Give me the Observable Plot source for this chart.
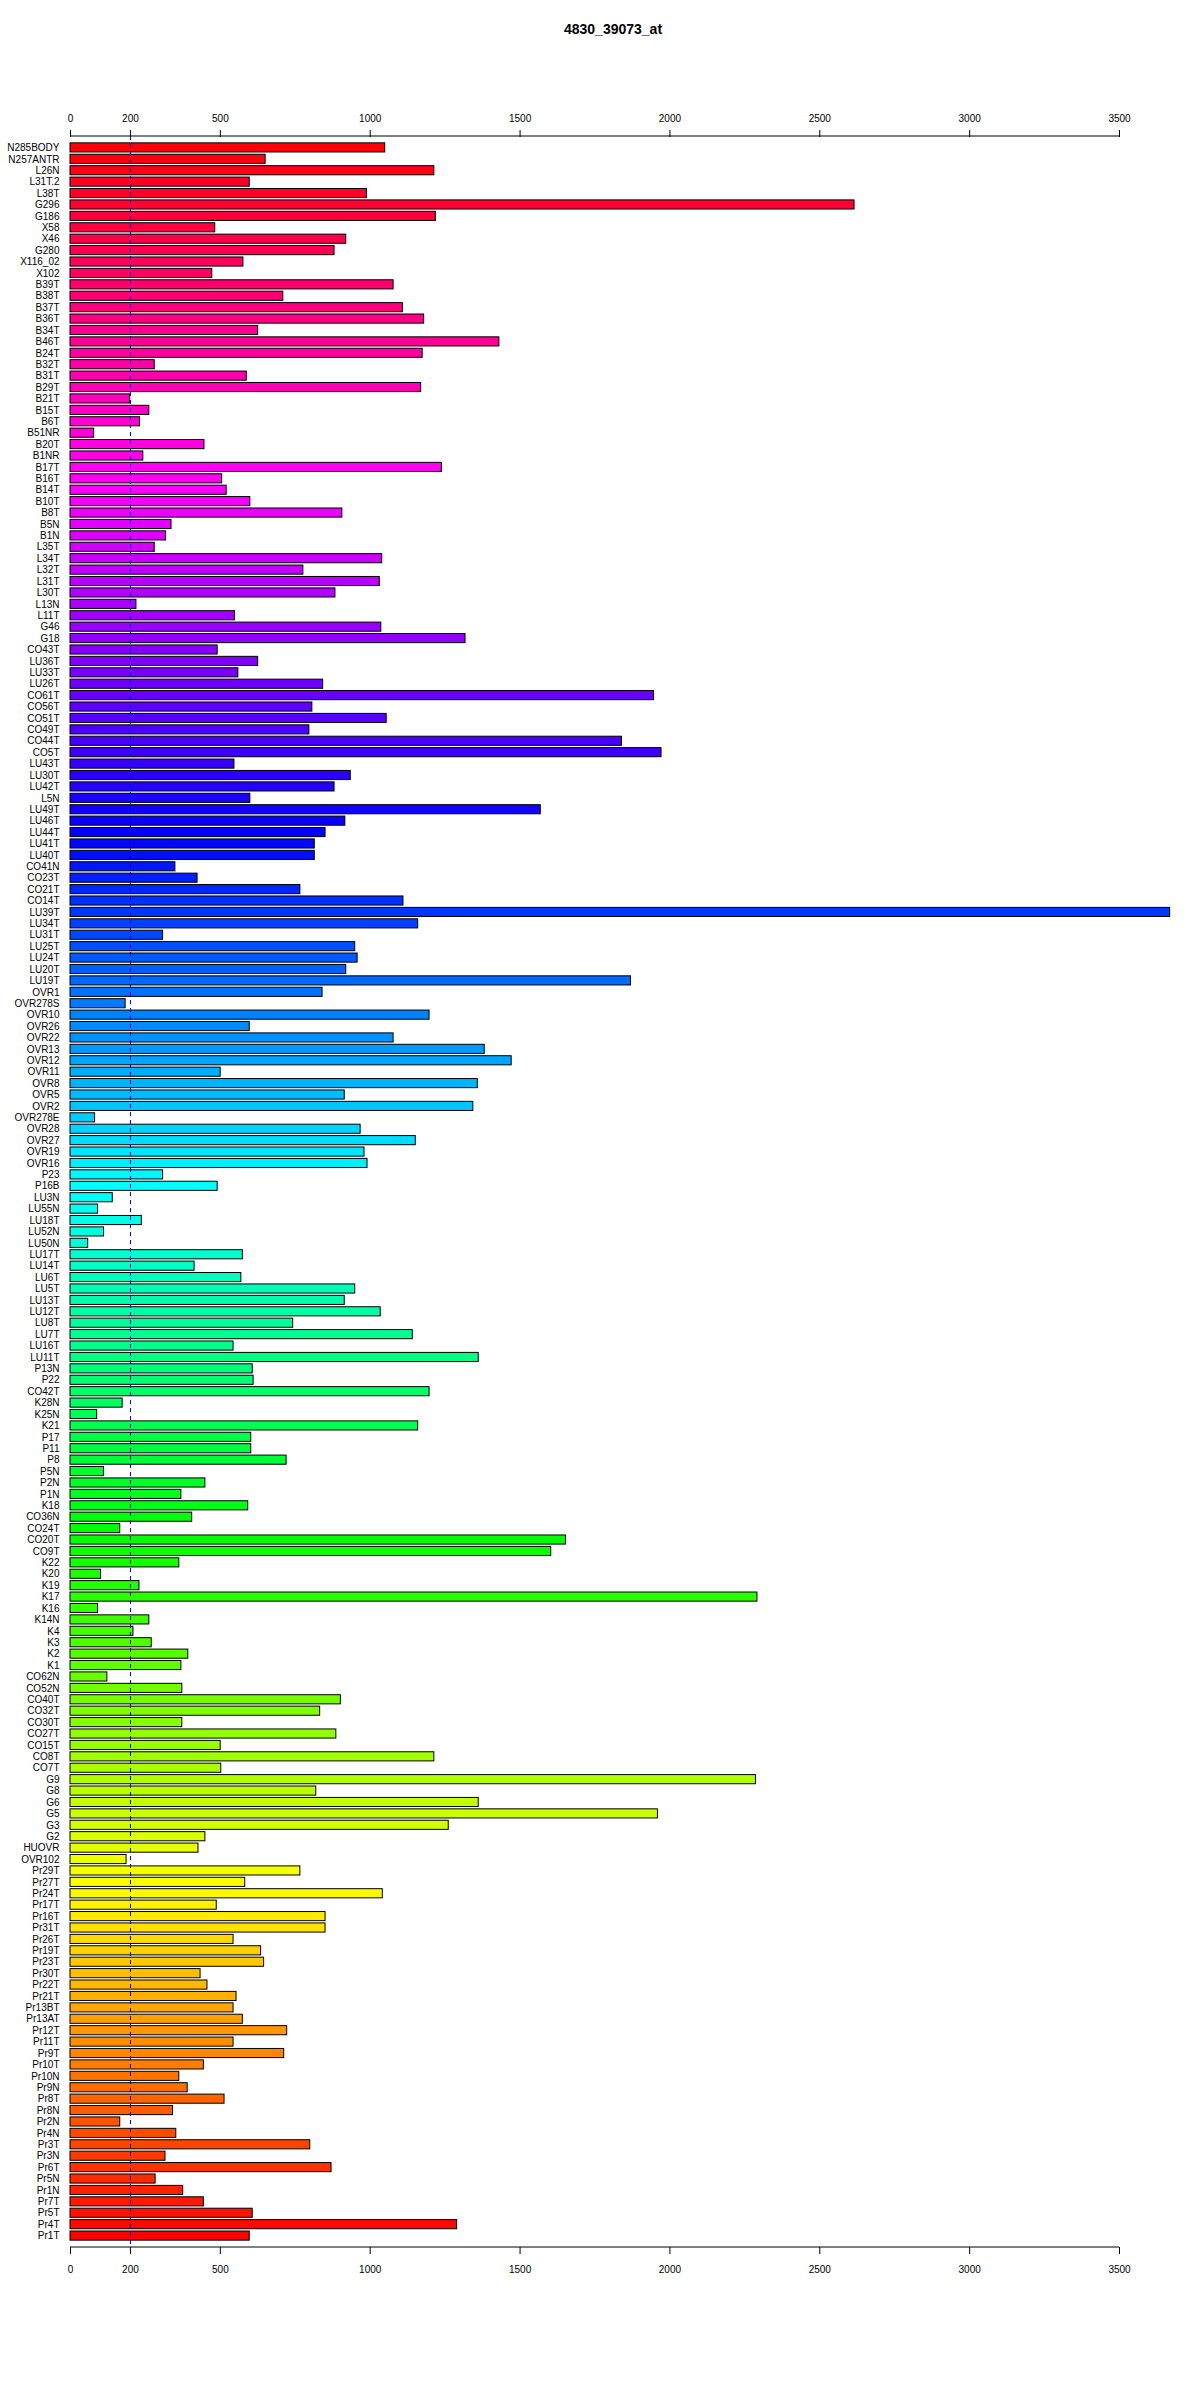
<!DOCTYPE html>
<html><head><meta charset="utf-8">
<script src="https://cdn.jsdelivr.net/npm/d3@7"></script>
<script src="https://cdn.jsdelivr.net/npm/@observablehq/plot@0.6"></script>
<style>
body{margin:0;background:#fff;font-family:"Liberation Sans",Arial,sans-serif;}
#title{height:50px;position:relative;}
#title span{position:absolute;left:613px;top:29px;transform:translate(-50%,-50%);font-weight:bold;font-size:14px;white-space:nowrap;}
#chart svg{display:block;font-family:"Liberation Sans",Arial,sans-serif;}
</style></head><body>
<div id="title"><span></span></div>
<div id="chart"></div>
<script>
const titleText = "4830_39073_at";
const samples = [
"N285BODY","N257ANTR","L26N","L31T.2","L38T","G296","G186","X58","X46","G280","X116_02","X102","B39T",
"B38T","B37T","B36T","B34T","B46T","B24T","B32T","B31T","B29T","B21T","B15T","B6T","B51NR","B20T","B1NR","B17T",
"B16T","B14T","B10T","B8T","B5N","B1N","L35T","L34T","L32T","L31T","L30T","L13N","L11T","G46","G18","CO43T",
"LU36T","LU33T","LU26T","CO61T","CO56T","CO51T","CO49T","CO44T","CO5T","LU43T","LU30T","LU42T","L5N","LU49T","LU46T","LU44T",
"LU41T","LU40T","CO41N","CO23T","CO21T","CO14T","LU39T","LU34T","LU31T","LU25T","LU24T","LU20T","LU19T","OVR1","OVR278S","OVR10","OVR26",
"OVR22","OVR13","OVR12","OVR11","OVR8","OVR5","OVR2","OVR278E","OVR28","OVR27","OVR19","OVR16","P23","P16B","LU3N",
"LU55N","LU18T","LU52N","LU50N","LU17T","LU14T","LU6T","LU5T","LU13T","LU12T","LU8T","LU7T","LU16T","LU11T","P13N","P22","CO42T",
"K28N","K25N","K21","P17","P11","P8","P5N","P2N","P1N","K18","CO36N","CO24T","CO20T","CO9T","K22","K20",
"K19","K17","K16","K14N","K4","K3","K2","K1","CO62N","CO52N","CO40T","CO32T","CO30T","CO27T","CO15T","CO8T",
"CO7T","G9","G8","G6","G5","G3","G2","HUOVR","OVR102","Pr29T","Pr27T","Pr24T","Pr17T","Pr16T","Pr31T","Pr26T",
"Pr19T","Pr23T","Pr30T","Pr22T","Pr21T","Pr13BT","Pr13AT","Pr12T","Pr11T","Pr9T","Pr10T","Pr10N","Pr9N","Pr8T","Pr8N","Pr2N","Pr4N",
"Pr3T","Pr3N","Pr6T","Pr5N","Pr1N","Pr7T","Pr5T","Pr4T","Pr1T"
];
const values = [
1050,651,1214,598,989,2616,1219,483,920,881,577,473,1078,
710,1109,1180,626,1431,1175,281,588,1170,199,263,232,79,447,243,1239,
506,521,600,907,337,319,281,1040,777,1032,884,220,549,1037,1318,491,
626,560,843,1947,807,1055,797,1840,1972,547,935,881,600,1569,917,851,
815,815,350,424,767,1111,3669,1160,309,950,958,920,1870,841,184,1198,598,
1078,1382,1472,501,1359,915,1344,82,968,1152,981,991,309,491,141,
92,238,112,59,575,414,570,950,915,1035,743,1142,544,1362,608,611,1198,
174,89,1160,603,603,721,112,450,370,593,406,166,1653,1604,363,102,
230,2292,92,263,210,271,393,370,123,373,902,833,373,887,501,1214,
503,2287,820,1362,1960,1262,450,427,187,767,583,1042,488,851,851,544,
636,646,434,457,554,544,575,723,544,713,445,363,391,514,342,166,353,
800,317,871,284,376,445,608,1290,598
];
const tickValues = [0,200,500,1000,1500,2000,2500,3000,3500];
const thresholdValue = 200;

document.querySelector("#title span").textContent = titleText;

const n = samples.length;
const data = samples.map((s, i) => ({sample: s, value: values[i], idx: i}));

const W = 1200, H = 2350, mT = 86, mB = 153, mL = 70, mR = 81;

const chart = Plot.plot({
  width: W, height: H,
  marginTop: mT, marginBottom: mB, marginLeft: mL, marginRight: mR,
  style: {fontFamily: "Liberation Sans, Arial, sans-serif", background: "white"},
  x: {domain: [tickValues[0], tickValues[tickValues.length - 1]], axis: null, label: null},
  y: {domain: samples, paddingInner: 0.2, paddingOuter: 0.6, axis: null, label: null},
  color: {type: "linear", domain: [-1, n - 1], interpolate: t => d3.hsl(360 * (1 - t), 1, 0.5).formatHex()},
  marks: [
    Plot.barX(data, {x: "value", y: "sample", fill: "idx", stroke: "black", strokeWidth: 1}),
    Plot.ruleX([thresholdValue], {stroke: "#0000CD", strokeWidth: 1, strokeDasharray: "4,4"}),
    Plot.axisX({anchor: "top", ticks: tickValues, tickFormat: d => String(d), tickSize: 7, tickPadding: 8, fontSize: 10, stroke: "black", label: null}),
    Plot.axisX({anchor: "bottom", ticks: tickValues, tickFormat: d => String(d), tickSize: 7, tickPadding: 11, fontSize: 10, stroke: "black", label: null}),
    Plot.axisY({anchor: "left", tickSize: 0, tickPadding: 11, fontSize: 10, label: null})
  ]
});

// axis lines spanning the tick range, like R's axis()
const xs = chart.scale("x");
const svg = d3.select(chart);
[mT, H - mB].forEach(yy => {
  svg.append("line")
    .attr("x1", xs.apply(tickValues[0])).attr("x2", xs.apply(tickValues[tickValues.length - 1]))
    .attr("y1", yy).attr("y2", yy)
    .attr("stroke", "black").attr("stroke-width", 1);
});

document.getElementById("chart").appendChild(chart);
</script>
</body></html>
